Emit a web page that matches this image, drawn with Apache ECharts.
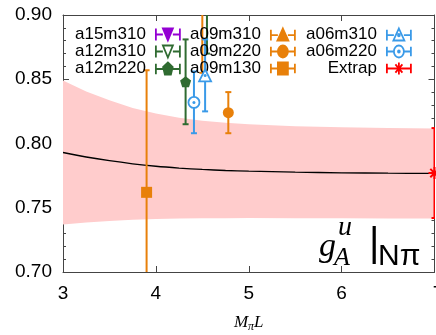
<!DOCTYPE html>
<html>
<head>
<meta charset="utf-8">
<script src="https://cdn.jsdelivr.net/npm/echarts@6/dist/echarts.min.js"></script>
<style>
  html, body { margin: 0; padding: 0; background: #fff; }
  #chart { width: 436px; height: 335px; }
</style>
</head>
<body>
<div id="chart"></div>
<script>
// fit curve and its error band
const fitX     = [3, 3.25, 3.5, 3.75, 4, 4.25, 4.5, 4.75, 5, 5.5, 6, 6.5, 7];
const fitY     = [0.793, 0.7895, 0.7866, 0.7842, 0.7823, 0.7809, 0.7798, 0.7790, 0.7785, 0.7777, 0.7772, 0.7769, 0.7767];
const bandLow  = [0.737, 0.7385, 0.7396, 0.7407, 0.7413, 0.7416, 0.7418, 0.7419, 0.7420, 0.7419, 0.7418, 0.7417, 0.7417];
const bandHigh = [0.849, 0.8405, 0.8336, 0.8277, 0.8233, 0.8201, 0.8178, 0.8162, 0.8150, 0.8135, 0.8126, 0.8121, 0.8117];

// ensembles: [M_pi L, g_A, error]
const a15m310 = [];
const a12m310 = [[4.55, 0.905, 0.035]];
const a12m220 = [[4.32, 0.848, 0.033]];
const a09m310 = [[4.50, 0.905, 0.050]];
const a09m220 = [[4.78, 0.824, 0.016]];
const a09m130 = [[3.90, 0.762, 0.095]];
const a06m310 = [[4.53, 0.853, 0.028]];
const a06m220 = [[4.41, 0.832, 0.024]];
const extrap  = [[7.00, 0.777, 0.035]];

const xRange = [3, 7];
const yRange = [0.70, 0.90];

const PURPLE = '#9400d3';
const GREEN = '#2f6b31';
const ORANGE = '#e8800a';
const BLUE = '#3a9ae8';
const RED = '#ff0000';
const SANS = '"Liberation Sans", Arial, sans-serif';
const SERIF = '"Liberation Serif", "Times New Roman", serif';

// marker shapes (scatter) and legend samples (errorbar + marker)
const marks = {
  triDown: { sym: 'path://M0,0 L10,0 L5,9 Z', size: 11, leg: 'M7,2 L17,2 L12,10 Z' },
  triUp:   { sym: 'triangle', size: 12, leg: 'M12,1 L17.5,10 L6.5,10 Z' },
  pent:    { sym: 'path://M5,0 L9.76,3.45 L7.94,9.05 L2.06,9.05 L0.24,3.45 Z', size: 11,
             leg: 'M12,1 L16.8,4.5 L15,10.2 L9,10.2 L7.2,4.5 Z' },
  circle:  { sym: 'circle', size: 11, leg: 'M17,6 A5,5 0 1 1 7,6 A5,5 0 1 1 17,6 Z' },
  square:  { sym: 'rect', size: 11, leg: 'M7,1 L17,1 L17,11 L7,11 Z' },
  star:    { sym: 'path://M0,5 L10,5 M5,0 L5,10 M1.5,1.5 L8.5,8.5 M8.5,1.5 L1.5,8.5', size: 12,
             leg: 'M7,6 L17,6 M12,1 L12,11 M8.5,2.5 L15.5,9.5 M15.5,2.5 L8.5,9.5' }
};
const BAR = 'M0,6 L7,6 M17,6 L24,6 M0,2 L0,10 M24,2 L24,10 ';
const DOT = ' M12.9,6 A0.9,0.9 0 1 1 11.1,6 A0.9,0.9 0 1 1 12.9,6 Z';

const ensembles = [
  { name: 'a15m310', data: a15m310, color: PURPLE, mark: 'triDown', open: false },
  { name: 'a12m310', data: a12m310, color: GREEN,  mark: 'triDown', open: true },
  { name: 'a12m220', data: a12m220, color: GREEN,  mark: 'pent',    open: false },
  { name: 'a09m310', data: a09m310, color: ORANGE, mark: 'triUp',   open: false },
  { name: 'a09m220', data: a09m220, color: ORANGE, mark: 'circle',  open: false },
  { name: 'a09m130', data: a09m130, color: ORANGE, mark: 'square',  open: false },
  { name: 'a06m310', data: a06m310, color: BLUE,   mark: 'triUp',   open: true, dot: true },
  { name: 'a06m220', data: a06m220, color: BLUE,   mark: 'circle',  open: true, dot: true },
  { name: 'Extrap',  data: extrap,  color: RED,    mark: 'star',    open: false, stroke: true }
];

function errorBars(e) {
  return {
    name: e.name,
    type: 'custom',
    data: e.data,
    clip: true,
    z: 3,
    encode: { x: 0, y: 1 },
    renderItem(params, api) {
      const x = api.value(0), y = api.value(1), err = api.value(2);
      const top = api.coord([x, y + err]);
      const bot = api.coord([x, y - err]);
      const cap = 3;
      const style = { stroke: e.color, lineWidth: 2 };
      return {
        type: 'group',
        children: [
          { type: 'line', shape: { x1: top[0], y1: top[1], x2: bot[0], y2: bot[1] }, style },
          { type: 'line', shape: { x1: top[0] - cap, y1: top[1], x2: top[0] + cap, y2: top[1] }, style },
          { type: 'line', shape: { x1: bot[0] - cap, y1: bot[1], x2: bot[0] + cap, y2: bot[1] }, style }
        ]
      };
    }
  };
}

function markers(e) {
  const m = marks[e.mark];
  return {
    name: e.name,
    type: 'scatter',
    data: e.data.map(d => [d[0], d[1]]),
    symbol: m.sym,
    symbolSize: m.size,
    clip: true,
    z: 4,
    itemStyle: e.open
      ? { color: '#fff', borderColor: e.color, borderWidth: 1.8, opacity: 1 }
      : { color: e.color, borderColor: e.color, borderWidth: e.stroke ? 2 : 0, opacity: 1 }
  };
}

function dots(e) {
  return {
    name: e.name,
    type: 'scatter',
    data: e.data.map(d => [d[0], d[1]]),
    symbol: 'circle',
    symbolSize: 3,
    clip: true,
    z: 5,
    itemStyle: { color: e.color, opacity: 1 }
  };
}

function legendItem(e) {
  const m = marks[e.mark];
  return {
    name: e.name,
    icon: 'path://' + BAR + m.leg + (e.dot ? DOT : ''),
    itemStyle: {
      color: e.open ? '#fff' : e.color,
      borderColor: e.color,
      borderWidth: 1.8,
      opacity: 1
    }
  };
}

function legendCol(left, names) {
  return {
    orient: 'vertical',
    left: left,
    top: 26,
    padding: 0,
    itemGap: 0,
    itemWidth: 24,
    itemHeight: 12,
    align: 'right',
    selectedMode: false,
    symbolKeepAspect: false,
    textStyle: { fontSize: 17, fontFamily: SANS, color: '#000', padding: [0, 5, 0, 0] },
    data: names.map(n => legendItem(ensembles.find(e => e.name === n)))
  };
}

const frame = { show: true, onZero: false, lineStyle: { color: '#444', width: 1 } };
const tick = { show: true, inside: true, length: 6, lineStyle: { color: '#444' } };

const series = [
  {
    // pink error band of the fit
    name: 'band', type: 'custom', clip: true, silent: true, z: 1,
    data: fitX.map((x, i) => [x, bandLow[i], bandHigh[i]]),
    encode: { x: 0, y: [1, 2] },
    renderItem(params, api) {
      if (params.dataIndex !== 0) return null;
      const upper = fitX.map((x, i) => api.coord([x, bandHigh[i]]));
      const lower = fitX.map((x, i) => api.coord([x, bandLow[i]])).reverse();
      return {
        type: 'polygon',
        shape: { points: upper.concat(lower) },
        style: { fill: '#ffcccc' }
      };
    }
  },
  {
    name: 'fit', type: 'line', smooth: 0.3,
    data: fitX.map((x, i) => [x, fitY[i]]),
    showSymbol: false, lineStyle: { color: '#000', width: 1.3 }, silent: true, z: 2
  }
];
ensembles.forEach(e => {
  series.push(errorBars(e));
  series.push(markers(e));
  if (e.dot) series.push(dots(e));
});

const chart = echarts.init(document.getElementById('chart'));
chart.setOption({
  animation: false,
  backgroundColor: '#fff',
  grid: { left: 63, right: 1.5, top: 15, bottom: 63, outerBoundsMode: 'none', containLabel: false },
  xAxis: [
    {
      type: 'value', min: xRange[0], max: xRange[1], interval: 1,
      axisLine: frame, axisTick: tick, splitLine: { show: false },
      axisLabel: {
        fontSize: 19, fontFamily: SANS, color: '#000', margin: 12,
        // last label sits on the image edge and is cut off in the original
        formatter: v => (v === xRange[1] ? '{edge|' + v + '}' : String(v)),
        rich: { edge: { fontSize: 19, fontFamily: SANS, color: '#000', padding: [0, 0, 0, 7] } }
      },
      name: '{i|M}{s|π}{i|L}',
      nameLocation: 'middle',
      nameGap: 41,
      nameTextStyle: {
        rich: {
          i: { fontSize: 17, fontStyle: 'italic', fontFamily: SERIF, color: '#000' },
          s: { fontSize: 12, fontStyle: 'italic', fontFamily: SERIF, color: '#000', padding: [8, 0, 0, 0] }
        }
      }
    },
    {
      type: 'value', position: 'top', min: xRange[0], max: xRange[1], interval: 1,
      axisLine: frame, axisTick: tick, axisLabel: { show: false }, splitLine: { show: false }
    }
  ],
  yAxis: [
    {
      type: 'value', min: yRange[0], max: yRange[1], interval: 0.05,
      axisLine: frame, axisTick: tick,
      minorTick: { show: true, splitNumber: 5, length: 3, lineStyle: { color: '#444' } },
      splitLine: { show: false },
      axisLabel: { fontSize: 19, fontFamily: SANS, color: '#000', margin: 11, formatter: v => v.toFixed(2) }
    },
    {
      type: 'value', position: 'right', min: yRange[0], max: yRange[1], interval: 0.05,
      axisLine: frame, axisTick: tick,
      minorTick: { show: true, splitNumber: 5, length: 3, lineStyle: { color: '#444' } },
      splitLine: { show: false }, axisLabel: { show: false }
    }
  ],
  legend: [
    legendCol(75, ['a15m310', 'a12m310', 'a12m220']),
    legendCol(190, ['a09m310', 'a09m220', 'a09m130']),
    legendCol(306, ['a06m310', 'a06m220', 'Extrap'])
  ],
  graphic: [
    { type: 'text', x: 319, y: 247, z: 10, style: { text: 'g', font: 'italic 34px ' + SERIF, fill: '#000', verticalAlign: 'middle' } },
    { type: 'text', x: 338, y: 228, z: 10, style: { text: 'u', font: 'italic 28px ' + SERIF, fill: '#000', verticalAlign: 'middle' } },
    { type: 'text', x: 334, y: 258, z: 10, style: { text: 'A', font: 'italic 26px ' + SERIF, fill: '#000', verticalAlign: 'middle' } },
    { type: 'text', x: 369, y: 245, z: 10, style: { text: '|', font: '40px ' + SANS, fill: '#000', verticalAlign: 'middle' } },
    { type: 'text', x: 378, y: 257, z: 10, style: { text: 'Nπ', font: '30px ' + SANS, fill: '#000', verticalAlign: 'middle' } }
  ],
  series: series
});
</script>
</body>
</html>
